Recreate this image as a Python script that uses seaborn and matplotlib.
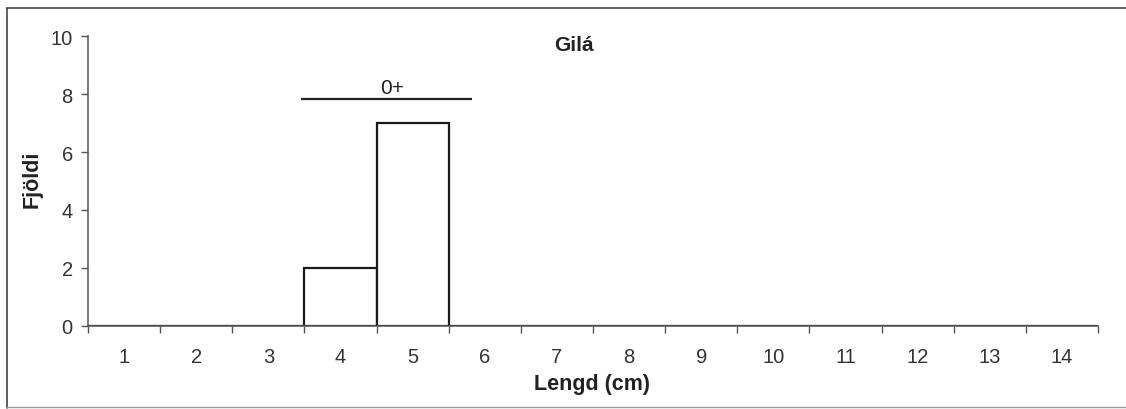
import numpy as np
import pandas as pd
import seaborn as sns
import matplotlib.pyplot as plt
from matplotlib.lines import Line2D

plt.switch_backend("Agg")

# Data
lengths = [str(i) for i in range(1, 15)]
counts = [0, 0, 0, 2, 7, 0, 0, 0, 0, 0, 0, 0, 0, 0]
y_ticks = [0, 2, 4, 6, 8, 10]
title = "Gilá"
age_group = "0+"
age_span = [2.45, 4.82]   # category span of the 0+ group line
age_level = 7.85

sns.set_theme(style="white")
plt.rcParams['font.family'] = ['Liberation Sans', 'DejaVu Sans']

fig = plt.figure(figsize=(11.26, 4.10), dpi=100)
ax = fig.add_axes([0.0782, 0.2032, 0.8970, 0.7058])

df = pd.DataFrame({"Lengd": lengths, "Fjoldi": counts})
sns.barplot(data=df, x="Lengd", y="Fjoldi", order=lengths, color="white",
            edgecolor="#1a1a1a", linewidth=1.6, width=1.0, saturation=1, ax=ax)

ax.set_xlim(-0.5, len(lengths) - 0.5)
ax.set_ylim(0, 10)
ax.set_yticks(y_ticks)

# Excel style ticks: marks at category boundaries, labels at centres
ax.set_xticks(np.arange(len(lengths)), labels=lengths, minor=True)
ax.set_xticks(np.arange(len(lengths) + 1) - 0.5, labels=[""] * (len(lengths) + 1))
ax.tick_params(axis="x", which="minor", length=0, labelsize=14.5, colors="#333333", pad=15)
ax.tick_params(axis="x", which="major", length=5, width=1, color="#555555", direction="out", bottom=True)
ax.tick_params(axis="y", length=5, width=1, color="#555555", direction="out", left=True,
               labelsize=14.5, labelcolor="#333333", pad=6)

for side in ["top", "right"]:
    ax.spines[side].set_visible(False)
for side in ["left", "bottom"]:
    ax.spines[side].set_color("#555555")
    ax.spines[side].set_linewidth(1.1)

ax.set_xlabel("Lengd (cm)", fontsize=15.5, fontweight="bold", color="#222222")
ax.xaxis.set_label_coords(0.4985, -0.162)
ax.set_ylabel("Fjöldi", fontsize=15.5, fontweight="bold", color="#222222")
ax.yaxis.set_label_coords(-0.0446, 0.51)

# Title inside plot
ax.text(6.23, 9.73, title, ha="center", va="center", fontsize=15, fontweight="bold", color="#222222")

# Age group line
ax.plot(age_span, [age_level, age_level], color="#222222", linewidth=1.6, solid_capstyle="butt")
ax.text(3.72, 8.22, age_group, ha="center", va="center", fontsize=15, color="#222222")

ax.set_facecolor("white")

# Scanned page frame (top, left, faint bottom)
fig.lines.append(Line2D([0.006, 1.0], [0.978, 0.978], transform=fig.transFigure, color="#444444", linewidth=1.2))
fig.lines.append(Line2D([0.0065, 0.0065], [0.002, 0.978], transform=fig.transFigure, color="#444444", linewidth=1.2))
fig.lines.append(Line2D([0.006, 1.0], [0.004, 0.004], transform=fig.transFigure, color="#999999", linewidth=1.0))

fig.savefig("out.png", dpi=100, facecolor="white")
